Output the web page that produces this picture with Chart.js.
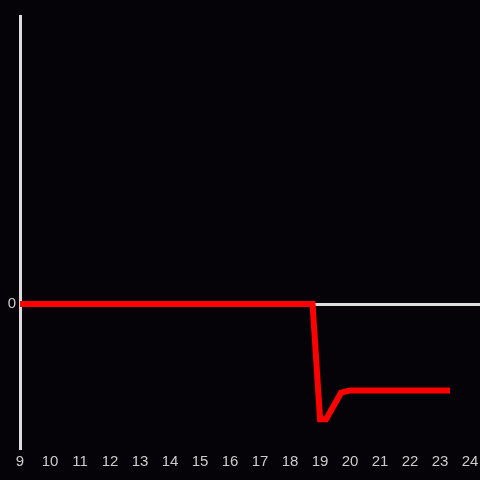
<!DOCTYPE html>
<html>
<head>
<meta charset="utf-8">
<script src="https://cdn.jsdelivr.net/npm/chart.js@4/dist/chart.umd.min.js"></script>
<style>
  body { margin: 0; background: #050307; }
  #wrap { width: 480px; height: 480px; }
</style>
</head>
<body>
<div id="wrap"><canvas id="myChart" width="480" height="480"></canvas></div>
<script>
// readings (x = hour, y = value)
var hours  = [9, 18.75, 19.0, 19.2, 19.7, 20, 21, 22, 23, 23.33];
var values = [0, 0, -4, -4, -3.08, -3, -3, -3, -3, -3];
var hourTicks = [9, 10, 11, 12, 13, 14, 15, 16, 17, 18, 19, 20, 21, 22, 23, 24];
var xMin = 9, xMax = 24.33;
var yMin = -5, yMax = 10;

var bg = {
  id: 'bg',
  beforeDraw: function (chart) {
    var c = chart.ctx;
    c.save();
    c.fillStyle = '#050307';
    c.fillRect(0, 0, chart.width, chart.height);
    c.restore();
  }
};

var points = hours.map(function (h, i) { return { x: h, y: values[i] }; });

var ctx = document.getElementById('myChart').getContext('2d');
var myChart = new Chart(ctx, {
  type: 'line',
  data: {
    datasets: [{
      data: points,
      borderColor: '#ff0000',
      borderWidth: 6,
      pointRadius: 0,
      tension: 0,
      fill: false
    }]
  },
  options: {
    responsive: false,
    animation: false,
    layout: { padding: { top: 16, right: 0, left: 0, bottom: 0 } },
    plugins: { legend: { display: false }, tooltip: { enabled: false } },
    scales: {
      x: {
        type: 'linear',
        min: xMin,
        max: xMax,
        grid: { display: false },
        border: { display: false },
        ticks: {
          color: '#cccccc',
          font: { family: 'Liberation Sans', size: 15 },
          maxRotation: 0,
          autoSkip: false,
          padding: -3
        },
        afterBuildTicks: function (scale) {
          scale.ticks = hourTicks.map(function (v) { return { value: v }; });
        },
        afterFit: function (scale) { scale.height = 32; }
      },
      y: {
        min: yMin,
        max: yMax,
        grid: {
          color: function (c) { return c.tick && c.tick.value === 0 ? '#dddddd' : 'transparent'; },
          lineWidth: 3,
          drawTicks: false
        },
        border: { color: '#dddddd', width: 3 },
        ticks: {
          stepSize: 5,
          color: '#cccccc',
          font: { family: 'Liberation Sans', size: 15 },
          padding: 4,
          callback: function (v) { return v === 0 ? '0' : ''; }
        },
        afterFit: function (scale) { scale.width = 20; }
      }
    }
  },
  plugins: [bg]
});
</script>
</body>
</html>
